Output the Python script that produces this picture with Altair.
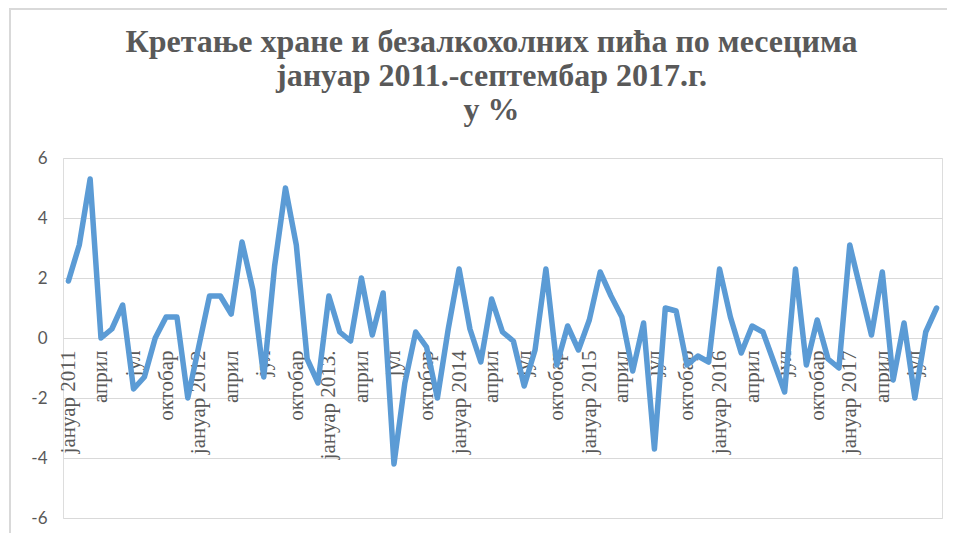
import altair as alt
import pandas as pd

values = [
    1.9, 3.1, 5.3, 0.0, 0.3, 1.1, -1.7, -1.3, 0.0, 0.7, 0.7, -2.0,
    -0.3, 1.4, 1.4, 0.8, 3.2, 1.6, -1.3, 2.4, 5.0, 3.1, -0.7, -1.5,
    1.4, 0.2, -0.1, 2.0, 0.1, 1.5, -4.2, -1.5, 0.2, -0.3, -2.0, 0.3,
    2.3, 0.3, -0.8, 1.3, 0.2, -0.1, -1.6, -0.4, 2.3, -0.9, 0.4, -0.4,
    0.6, 2.2, 1.4, 0.7, -1.1, 0.5, -3.7, 1.0, 0.9, -0.9, -0.6, -0.8,
    2.3, 0.7, -0.5, 0.4, 0.2, -0.8, -1.8, 2.3, -0.9, 0.6, -0.7, -1.0,
    3.1, 1.6, 0.1, 2.2, -1.4, 0.5, -2.0, 0.2, 1.0,
]

tick_labels = [
    "јануар 2011", "април", "јул", "октобар",
    "јануар 2012", "април", "јул", "октобар",
    "јануар 2013.", "април", "јул", "октобар",
    "јануар 2014", "април", "јул", "октобар",
    "јануар 2015", "април", "јул", "октобар",
    "јануар 2016", "април", "јул", "октобар",
    "јануар 2017", "април", "јул",
]

y_ticks = [-6, -4, -2, 0, 2, 4, 6]

title_lines = [
    "Кретање хране и безалкохолних пића по месецима",
    "јануар 2011.-септембар 2017.г.",
    "у %",
]

df = pd.DataFrame({"i": list(range(len(values))), "v": values})
tick_pos = [3 * k for k in range(len(tick_labels))]
label_expr = "[" + ",".join("'" + t + "'" for t in tick_labels) + "][round(datum.value / 3)]"

W, H = 879, 360

line = alt.Chart(df).mark_line(
    color="#5B9BD5", strokeWidth=5.5, strokeJoin="round", strokeCap="round"
).encode(
    x=alt.X(
        "i:Q",
        scale=alt.Scale(domain=[-0.5, len(values) - 0.5], nice=False, zero=False),
        axis=alt.Axis(
            values=tick_pos,
            labelExpr=label_expr,
            labelAngle=270,
            labelAlign="right",
            labelBaseline="middle",
            labelFont="Liberation Serif",
            labelFontSize=21,
            labelColor="#595959",
            labelPadding=12,
            labelOverlap=False,
            labelFlush=False,
            offset=-H / 2,
            ticks=False,
            domain=False,
            grid=False,
            title=None,
        ),
    ),
    y=alt.Y(
        "v:Q",
        scale=alt.Scale(domain=[-6, 6], nice=False),
        axis=alt.Axis(
            values=y_ticks,
            labelExpr="'' + datum.value",
            labelFont="Lato",
            labelFontSize=17,
            labelColor="#595959",
            labelPadding=16,
            gridColor="#d9d9d9",
            gridWidth=1,
            ticks=False,
            domain=False,
            title=None,
        ),
    ),
)

border = alt.Chart(df).mark_rect(
    fill=None, stroke="#d9d9d9", strokeWidth=2
).encode(
    x=alt.value(-53), x2=alt.value(W + 60), y=alt.value(-149), y2=alt.value(H + 60)
)

chart = alt.layer(border, line).properties(
    width=W,
    height=H,
    padding={"left": 55, "top": 150, "right": 5, "bottom": 15},
    autosize=alt.AutoSizeParams(type="none"),
    title=alt.TitleParams(
        text=title_lines,
        font="Liberation Serif",
        fontSize=32,
        fontWeight="bold",
        color="#595959",
        lineHeight=34,
        anchor="middle",
        baseline="bottom",
        dx=-11,
        dy=151,
        offset=0,
    ),
).configure_view(stroke=None).configure(background="white")

chart.save("out.html", embed_options={"renderer": "svg", "actions": False})
